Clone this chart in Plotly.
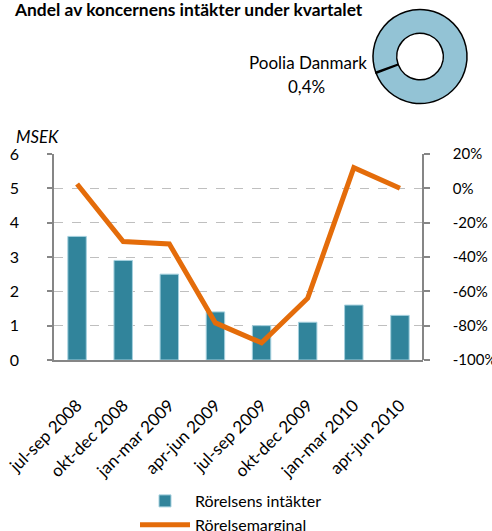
import plotly.graph_objects as go

categories = ["jul-sep 2008", "okt-dec 2008", "jan-mar 2009", "apr-jun 2009",
              "jul-sep 2009", "okt-dec 2009", "jan-mar 2010", "apr-jun 2010"]
revenue = [3.6, 2.9, 2.5, 1.4, 1.0, 1.1, 1.6, 1.3]
margin_pct = [2.5, -31, -32.4, -78.4, -90, -64, 12, 0]
left_ticks = [0, 1, 2, 3, 4, 5, 6]
right_ticks = [-100, -80, -60, -40, -20, 0, 20]
right_labels = ["-100%", "-80%", "-60%", "-40%", "-20%", "0%", "20%"]
share_labels = ["Poolia Danmark", "Övrigt"]
share_values = [0.4, 99.6]

W, H = 492, 531
FONT = "Lato"
AX = "#868686"

fig = go.Figure()
fig.add_trace(go.Bar(
    x=categories, y=revenue, name="Rörelsens intäkter",
    marker=dict(color="#31849B", line=dict(color="#A5D0DE", width=1)),
    width=0.4, yaxis="y", xaxis="x"))
fig.add_trace(go.Scatter(
    x=categories, y=margin_pct, name="Rörelsemarginal", mode="lines",
    line=dict(color="#E46C0A", width=5), yaxis="y2", xaxis="x"))
fig.add_trace(go.Pie(
    labels=share_labels, values=share_values, hole=0.495, sort=False,
    direction="clockwise", rotation=249, textinfo="none", showlegend=False,
    hoverinfo="label+percent",
    marker=dict(colors=["#93C3D5", "#93C3D5"], line=dict(color="black", width=1.5)),
    domain=dict(x=[373/W, 467/W], y=[1-104/H, 1-9/H])))

x0, x1 = 54/W, 423/W
y0, y1 = 1-360/H, 1-154/H

fig.update_layout(
    width=W, height=H,
    margin=dict(l=0, r=0, t=0, b=0, autoexpand=False),
    paper_bgcolor="white", plot_bgcolor="white",
    font=dict(family=FONT, size=17, color="black"),
    bargap=0.6,
    xaxis=dict(domain=[x0, x1], showline=True, linecolor=AX, linewidth=1.5,
               ticks="outside", ticklen=27, tickcolor="rgba(0,0,0,0)",
               tickangle=-45, automargin=False, showgrid=False,
               tickfont=dict(size=17), anchor="y"),
    yaxis=dict(domain=[y0, y1], range=[0, 6], tickvals=left_ticks,
               showline=True, linecolor=AX, linewidth=1.5, ticks="outside",
               ticklen=5, tickcolor=AX, tickwidth=1.5, showgrid=True,
               gridcolor="#BFBFBF", griddash="dash", gridwidth=1,
               zeroline=False, automargin=False, ticklabelstandoff=25,
               tickangle=0, tickfont=dict(size=16)),
    yaxis2=dict(range=[-100, 20], tickvals=right_ticks, ticktext=right_labels,
                overlaying="y", side="right", anchor="free", position=x1,
                showline=True, linecolor=AX, linewidth=1.5, ticks="outside",
                ticklen=6, tickcolor=AX, tickwidth=1.5, showgrid=False,
                zeroline=False, automargin=False, ticklabelstandoff=20,
                tickangle=0, ticklabelposition="outside",
                tickfont=dict(size=15)),
    legend=dict(x=135/W, y=1-484/H, xanchor="left", yanchor="top",
                font=dict(size=16), itemwidth=50, tracegroupgap=0,
                bgcolor="rgba(0,0,0,0)"),
    annotations=[
        dict(text="<b>Andel av koncernens intäkter under kvartalet</b>",
             x=12/W, y=1+3/H, xref="paper", yref="paper", xanchor="left",
             yanchor="top", showarrow=False, font=dict(size=17.4)),
        dict(text="Poolia Danmark", x=308/W, y=1-62/H, xref="paper",
             yref="paper", xanchor="center", yanchor="middle", showarrow=False,
             font=dict(size=17)),
        dict(text="0,4%", x=306/W, y=1-87/H, xref="paper",
             yref="paper", xanchor="center", yanchor="middle", showarrow=False,
             font=dict(size=17)),
        dict(text="<i>MSEK</i>", x=14/W, y=1-136/H, xref="paper", yref="paper",
             xanchor="left", yanchor="middle", showarrow=False,
             font=dict(size=16.8)),
    ],
)

fig.write_html("out.html",
               config={"displayModeBar": False},
               post_script="document.body.style.margin='0';"
                           "document.body.style.overflow='hidden';")
